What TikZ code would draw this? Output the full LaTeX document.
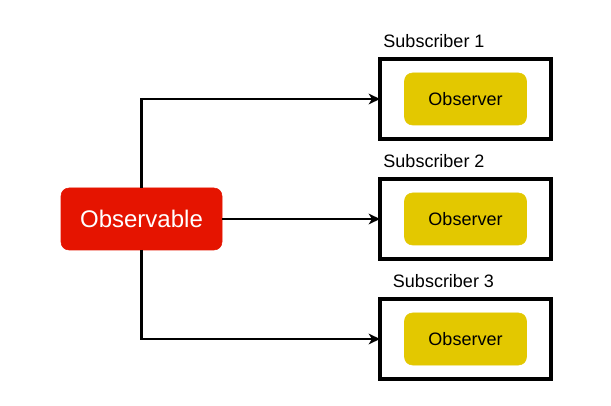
\documentclass[tikz,border=0pt]{standalone}
\usepackage{fontspec}
\setmainfont{Liberation Sans}
\usetikzlibrary{positioning, arrows.meta}
\definecolor{obsred}{HTML}{E51400}
\definecolor{obsyellow}{HTML}{E3C800}

\tikzset{
	source/.style={rectangle, rounded corners=6pt, fill=obsred, draw=obsred,
		text=white, font=\fontsize{18pt}{20pt}\selectfont,
		minimum width=120.75pt, minimum height=46.5pt, outer sep=0pt},
	subbox/.style={rectangle, draw=black, line width=2.4pt, fill=white,
		minimum width=128.25pt, minimum height=60pt, outer sep=0pt},
	sink/.style={rectangle, rounded corners=6pt, fill=obsyellow, draw=obsyellow,
		text=black, font=\fontsize{13.5pt}{16pt}\selectfont,
		minimum width=91.5pt, minimum height=39pt},
	sublabel/.style={font=\fontsize{13.5pt}{16pt}\selectfont, inner sep=0pt},
	flow/.style={line width=2pt, -{Stealth[length=8.5pt, width=8pt, inset=2.5pt]}}
}

\begin{document}
\begin{tikzpicture}[x=0.75pt, y=-0.75pt]
		\useasboundingbox (0,0) rectangle (611,406);
		
		\node [source] (obs) at (141.5,219) {Observable};
		
		\node [subbox] (sub1) at (465.5,99) {};
		\node [subbox] (sub2) at (465.5,219) {};
		\node [subbox] (sub3) at (465.5,339) {};
		
		\node [sink] (ob1) at (sub1.center) {Observer};
		\node [sink] (ob2) at (sub2.center) {Observer};
		\node [sink] (ob3) at (sub3.center) {Observer};
		
		\node [sublabel] (lab1) at (434,41) {Subscriber 1};
		\node [sublabel] (lab2) at (434,161) {Subscriber 2};
		\node [sublabel] (lab3) at (443.5,281) {Subscriber 3};
		
		\draw [flow] (obs.north) |- (sub1.west);
		\draw [flow] (obs.east) -- (sub2.west);
		\draw [flow] (obs.south) |- (sub3.west);
		\end{tikzpicture}
\end{document}
